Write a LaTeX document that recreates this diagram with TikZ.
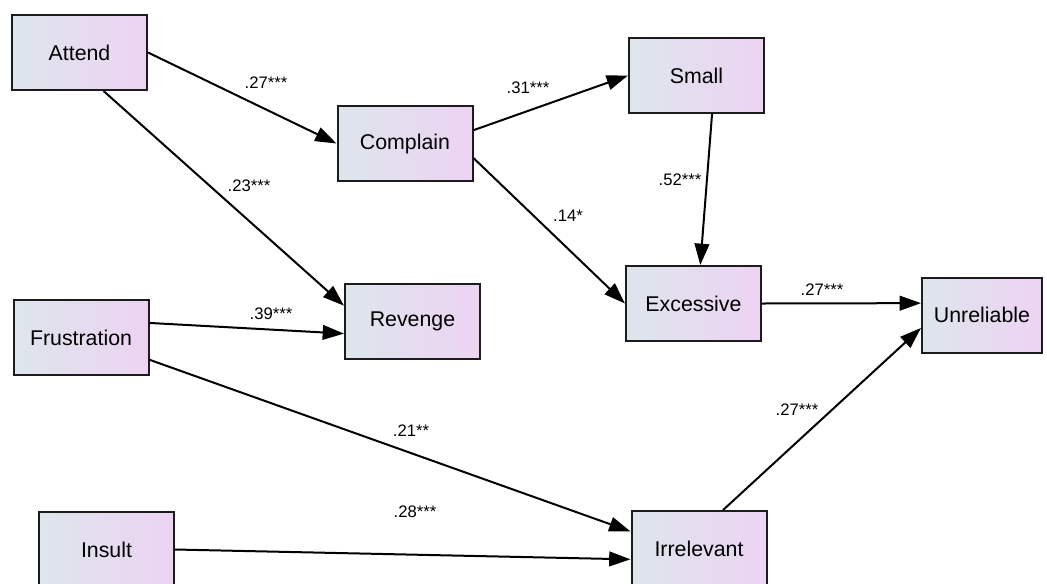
\documentclass[tikz,border=0pt]{standalone}
\usepackage{fontspec}
\setmainfont{Liberation Sans}
\usetikzlibrary{arrows.meta}
\definecolor{boxleft}{RGB}{221,230,236}
\definecolor{boxright}{RGB}{237,211,243}
\definecolor{boxline}{RGB}{28,28,28}
\tikzset{
  var/.style={draw=boxline, line width=1.5pt, left color=boxleft, right color=boxright,
    minimum width=101.25pt, minimum height=56.25pt, inner sep=0pt,
    font=\fontsize{16}{18}\selectfont},
  effect/.style={line width=1.5pt, -{Triangle[length=16pt,width=11pt]}},
  coef/.style={inner sep=0.75pt, font=\fontsize{12.5}{14}\selectfont}
}
\begin{document}
\begin{tikzpicture}[x=0.75pt,y=0.75pt,yscale=-1,xscale=1]
\useasboundingbox (0,0) rectangle (1047,583);
\clip (0,0) rectangle (1047,583);

%Shape: Observed variables
\node[var] (attend) at (79.5,52.5) {Attend};
\node[var] (complain) at (405,143.5) {Complain};
\node[var] (small) at (696.5,75.5) {Small};
\node[var] (revenge) at (412.5,321.5) {Revenge};
\node[var] (frustration) at (81,337.5) {Frustration};
\node[var] (excessive) at (693.5,303.5) {Excessive};
\node[var, minimum width=90pt] (unreliable) at (982,315) {Unreliable};
\node[var] (insult) at (106.5,549.5) {Insult};
\node[var] (irrelevant) at (699,548.5) {Irrelevant};

%Straight Lines: paths
\draw[effect] (attend.east) -- (complain.west);
\draw[effect] (attend.-58) -- (revenge.167);
\draw[effect] (complain.11) -- (small.west);
\draw[effect] (complain.-12) -- (excessive.west);
\draw[effect] (small.-68) -- (excessive.80);
\draw[effect] (excessive.east) -- (unreliable.169);
\draw[effect] (frustration.12) -- (revenge.190);
\draw[effect] (frustration.-18) -- (irrelevant.166);
\draw[effect] (insult.east) -- (irrelevant.189);
\draw[effect] (irrelevant.58) -- (unreliable.192);

% Text Node
\node[coef] (c1) at (266,83) {.27***};
% Text Node
\node[coef] (c2) at (249,186) {.23***};
% Text Node
\node[coef] (c3) at (528,88) {.31***};
% Text Node
\node[coef] (c4) at (568,216) {.14*};
% Text Node
\node[coef] (c5) at (680,180) {.52***};
% Text Node
\node[coef] (c6) at (822,290) {.27***};
% Text Node
\node[coef] (c7) at (271,314) {.39***};
% Text Node
\node[coef] (c8) at (411,431) {.21**};
% Text Node
\node[coef] (c9) at (415,512) {.28***};
% Text Node
\node[coef] (c10) at (797,410) {.27***};

\end{tikzpicture}
\end{document}
